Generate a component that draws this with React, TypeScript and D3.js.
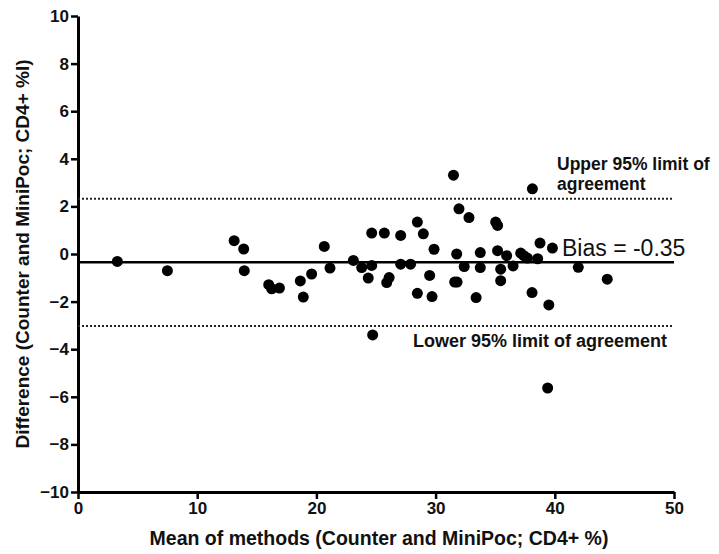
import * as d3 from "d3";
import { useEffect, useRef } from "react";

// chart size and plot edges
const width = 719;
const height = 554;
const marginTop = 16;
const marginBottom = 62;
const marginLeft = 78;
const marginRight = 45;

// mean of both methods (x) and their difference (y), one entry per sample
const meanVals = [
  3.3, 7.5, 13.1, 13.9, 13.95, 16.0, 16.25, 16.9, 18.65, 18.9, 19.6, 20.66,
  21.14, 23.1, 23.8, 24.35, 24.64, 24.64, 24.72, 25.7, 25.9, 26.1, 27.07, 27.07,
  27.9, 28.47, 28.47, 28.97, 29.5, 29.7, 29.87, 31.5, 31.6, 31.8, 31.77, 31.96,
  32.4, 32.8, 33.4, 33.75, 33.75, 35.04, 35.2, 35.2, 35.46, 35.46, 35.96, 36.5,
  37.14, 37.4, 37.7, 38.09, 38.12, 38.56, 38.76, 39.5, 39.8, 41.97, 44.4, 39.4,
];
const diffVals = [
  -0.31, -0.7, 0.56, 0.21, -0.7, -1.29, -1.46, -1.43, -1.13, -1.81, -0.84, 0.32,
  -0.59, -0.27, -0.57, -1.01, 0.88, -0.48, -3.4, 0.88, -1.2, -0.99, 0.78, -0.43,
  -0.43, 1.34, -1.65, 0.85, -0.9, -1.79, 0.2, 3.31, -1.18, -1.18, 0.0, 1.9,
  -0.53, 1.53, -1.83, 0.06, -0.57, 1.34, 1.2, 0.14, -0.64, -1.12, -0.07, -0.5,
  0.04, -0.07, -0.17, -1.62, 2.74, -0.2, 0.46, -2.14, 0.25, -0.56, -1.06, -5.63,
];

const bias = -0.35;
const upperLimit = 2.32;
const lowerLimit = -3.02;

const xTicks = [0, 10, 20, 30, 40, 50];
const yTicks = [-10, -8, -6, -4, -2, 0, 2, 4, 6, 8, 10];

const xTitle = "Mean of methods (Counter and MiniPoc; CD4+ %)";
const yTitle = "Difference (Counter and MiniPoc; CD4+ %l)";
const biasLabel = "Bias = -0.35";
const upperLabel = ["Upper 95% limit of", "agreement"];
const lowerLabel = "Lower 95% limit of agreement";

const font = "Arial, 'Liberation Sans', Helvetica, sans-serif";

const App = () => {
  const containerRef = useRef<HTMLDivElement>(null);

  useEffect(() => {
    const x = d3
      .scaleLinear()
      .domain([0, 50])
      .range([marginLeft, width - marginRight]);

    const y = d3
      .scaleLinear()
      .domain([-10, 10])
      .range([height - marginBottom, marginTop]);

    const svg = d3
      .create("svg")
      .attr("width", width)
      .attr("height", height)
      .style("position", "absolute")
      .style("left", 0)
      .style("top", 0)
      .style("background", "#fff")
      .style("font-family", font);

    // x-axis sits at y = -10
    const xAxis = svg
      .append("g")
      .attr("transform", `translate(0, ${y(-10)})`)
      .call(d3.axisBottom(x).tickValues(xTicks).tickSize(7).tickPadding(3).tickSizeOuter(0));

    // y-axis sits at x = 0
    const yAxis = svg
      .append("g")
      .attr("transform", `translate(${x(0)}, 0)`)
      .call(d3.axisLeft(y).tickValues(yTicks).tickSize(7).tickPadding(2).tickSizeOuter(0));

    [xAxis, yAxis].forEach((g) => {
      g.select(".domain").attr("stroke", "#000").attr("stroke-width", 3);
      g.selectAll(".tick line").attr("stroke", "#000").attr("stroke-width", 2.5);
      g.selectAll(".tick text")
        .attr("fill", "#111")
        .attr("font-size", 17)
        .attr("font-weight", "bold")
        .attr("font-family", font);
    });

    // limits of agreement
    svg
      .selectAll("line.loa")
      .data([upperLimit, lowerLimit])
      .join("line")
      .attr("class", "loa")
      .attr("x1", x(0))
      .attr("x2", x(50))
      .attr("y1", (d) => y(d))
      .attr("y2", (d) => y(d))
      .attr("stroke", "#222")
      .attr("stroke-width", 2)
      .attr("stroke-dasharray", "2 2");

    // bias line
    svg
      .append("line")
      .attr("x1", x(0))
      .attr("x2", x(50))
      .attr("y1", y(bias))
      .attr("y2", y(bias))
      .attr("stroke", "#000")
      .attr("stroke-width", 2.5);

    // points
    svg
      .append("g")
      .selectAll("circle")
      .data(meanVals.map((m, i) => [m, diffVals[i]]))
      .join("circle")
      .attr("cx", (d) => x(d[0]))
      .attr("cy", (d) => y(d[1]))
      .attr("r", 5.5)
      .attr("fill", "#000");

    // annotations
    svg
      .append("text")
      .attr("x", 562)
      .attr("y", y(bias) - 6)
      .attr("font-size", 23)
      .attr("fill", "#111")
      .text(biasLabel);

    svg
      .append("g")
      .selectAll("text")
      .data(upperLabel)
      .join("text")
      .attr("x", 557)
      .attr("y", (_, i) => 170 + i * 20)
      .attr("font-size", 17.5)
      .attr("font-weight", "bold")
      .attr("fill", "#111")
      .text((d) => d);

    svg
      .append("text")
      .attr("x", 413)
      .attr("y", 347)
      .attr("font-size", 18)
      .attr("font-weight", "bold")
      .attr("fill", "#111")
      .text(lowerLabel);

    // axis titles
    svg
      .append("text")
      .attr("x", (x(0) + x(50)) / 2 + 3)
      .attr("y", 545)
      .attr("text-anchor", "middle")
      .attr("font-size", 19.5)
      .attr("font-weight", "bold")
      .attr("fill", "#111")
      .text(xTitle);

    svg
      .append("text")
      .attr("transform", `translate(29, ${(y(-10) + y(10)) / 2}) rotate(-90)`)
      .attr("text-anchor", "middle")
      .attr("font-size", 19)
      .attr("font-weight", "bold")
      .attr("fill", "#111")
      .text(yTitle);

    if (containerRef.current && containerRef.current.children.length === 0) {
      containerRef.current.append(svg.node() as SVGSVGElement);
    }
  }, []);

  return <div ref={containerRef}></div>;
};

export default App;
